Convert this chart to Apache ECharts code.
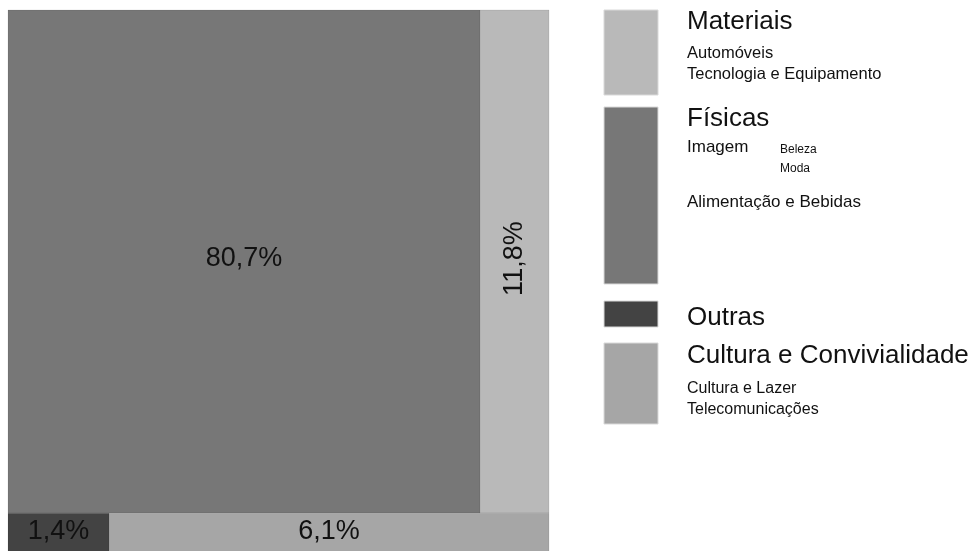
<!DOCTYPE html>
<html>
<head>
<meta charset="utf-8">
<script src="https://cdn.jsdelivr.net/npm/echarts@6/dist/echarts.min.js"></script>
<style>
    html, body { margin: 0; padding: 0; background: #fff; }
</style>
</head>
<body>
<div id="main" style="width: 971px; height: 551px;"></div>
<script>
    // groups as they sit in the block, row 0 on top, row 1 below
    var groups = ['Físicas', 'Materiais', 'Outras', 'Cultura e Convivialidade'];
    var shares = [80.7, 11.8, 1.4, 6.1];
    var rows = [0, 0, 1, 1];
    var colors = ['#777777', '#b9b9b9', '#434343', '#a6a6a6'];

    // legend sub-entries
    var legendOrder = ['Materiais', 'Físicas', 'Outras', 'Cultura e Convivialidade'];
    var subMateriais = ['Automóveis', 'Tecnologia e Equipamento'];
    var subFisicas = ['Imagem', 'Alimentação e Bebidas'];
    var subImagem = ['Beleza', 'Moda'];
    var subCultura = ['Cultura e Lazer', 'Telecomunicações'];

    var rowTotals = [0, 0];
    shares.forEach(function (v, i) { rowTotals[rows[i]] += v; });

    // build [x0, x1, y0, y1, share] for each cell
    var cells = [];
    var xAcc = [0, 0];
    shares.forEach(function (v, i) {
        var r = rows[i];
        var y0 = 0;
        for (var k = 0; k < r; k++) y0 += rowTotals[k];
        var x0 = xAcc[r];
        var x1 = x0 + v / rowTotals[r] * 100;
        xAcc[r] = x1;
        cells.push([x0, x1, y0, y0 + rowTotals[r], v]);
    });

    function fmt(v) {
        return v.toFixed(1).replace('.', ',') + '%';
    }

    var chartDom = document.getElementById('main');
    var myChart = echarts.init(chartDom);
    var option;

    var font = '"Liberation Sans", Arial, sans-serif';
    var sw = { x: 604, w: 54 };
    var tx = 687;

    function swatch(y, h, color) {
        return {
            type: 'rect',
            shape: { x: sw.x, y: y, width: sw.w, height: h },
            style: { fill: color, stroke: '#d9d9d9', lineWidth: 1 }
        };
    }
    function txt(x, y, s, size) {
        return {
            type: 'text',
            x: x, y: y,
            style: { text: s, fill: '#111111', font: size + 'px ' + font, textVerticalAlign: 'middle' }
        };
    }
    function colorOf(name) {
        return colors[groups.indexOf(name)];
    }

    var graphics = [
        swatch(10, 85, colorOf(legendOrder[0])),
        txt(tx, 22, legendOrder[0], 26),
        txt(tx, 53, subMateriais[0], 16.5),
        txt(tx, 74.5, subMateriais[1], 16.5),

        swatch(107, 177, colorOf(legendOrder[1])),
        txt(tx, 118.5, legendOrder[1], 26),
        txt(tx, 147.5, subFisicas[0], 17),
        txt(780, 150, subImagem[0], 12),
        txt(780, 169, subImagem[1], 12),
        txt(tx, 202, subFisicas[1], 17),

        swatch(301, 26, colorOf(legendOrder[2])),
        txt(tx, 317.5, legendOrder[2], 26),

        swatch(343, 81, colorOf(legendOrder[3])),
        txt(tx, 355.5, legendOrder[3], 26),
        txt(tx, 388.5, subCultura[0], 16),
        txt(tx, 410, subCultura[1], 16)
    ];

    option = {
        animation: false,
        backgroundColor: '#ffffff',
        grid: { left: 8, top: 10, width: 541, height: 544, outerBoundsMode: 'none' },
        xAxis: { type: 'value', min: 0, max: 100, show: false },
        yAxis: { type: 'value', min: 0, max: 100, inverse: true, show: false },
        graphic: graphics,
        series: [{
            type: 'custom',
            clip: false,
            data: cells,
            renderItem: function (params, api) {
                var i = params.dataIndex;
                var p0 = api.coord([api.value(0), api.value(2)]);
                var p1 = api.coord([api.value(1), api.value(3)]);
                var w = p1[0] - p0[0];
                var h = p1[1] - p0[1];
                var vertical = h > w * 2;
                return {
                    type: 'group',
                    children: [{
                        type: 'rect',
                        shape: { x: p0[0], y: p0[1], width: w, height: h },
                        style: { fill: colors[i], stroke: 'rgba(0,0,0,0.08)', lineWidth: 1 }
                    }, {
                        type: 'text',
                        x: p0[0] + w / 2,
                        y: rows[i] === 0 ? p0[1] + h / 2 - 3 : 532,
                        rotation: vertical ? Math.PI / 2 : 0,
                        style: {
                            text: fmt(api.value(4)),
                            fill: '#111111',
                            font: '27px ' + font,
                            align: 'center',
                            verticalAlign: 'middle'
                        }
                    }]
                };
            }
        }]
    };

    option && myChart.setOption(option);
</script>
</body>
</html>
